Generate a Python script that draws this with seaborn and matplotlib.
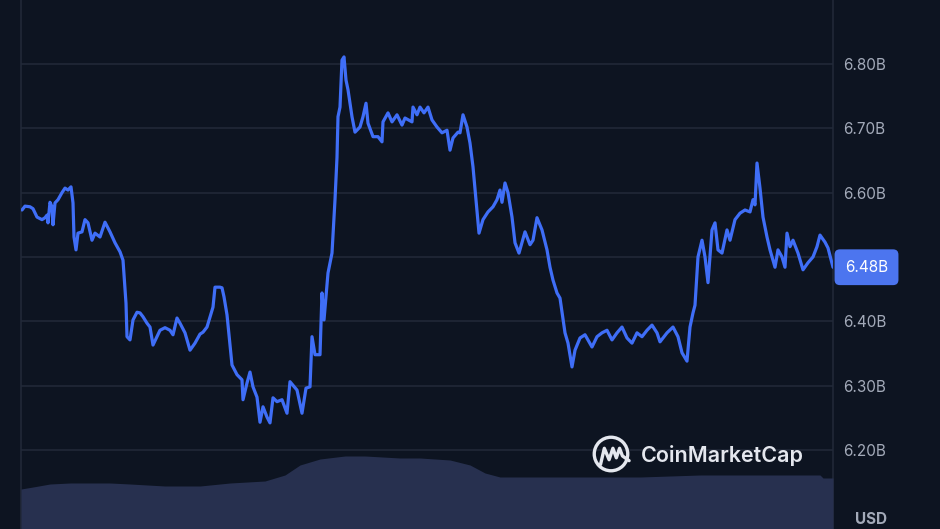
import numpy as np
import pandas as pd
import seaborn as sns
from matplotlib import pyplot as plt
from matplotlib import transforms
from matplotlib.patches import Circle

# price series (market cap, billions USD) over the day, t = timeline step
t = [1, 4, 9, 12, 16, 21, 24, 26, 27, 29, 31, 32, 34, 37, 41, 44, 47, 50, 52, 53,
     55, 57, 61, 64, 67, 71, 74, 79, 84, 89, 94, 99, 102, 105, 106, 109, 112, 116, 119, 122,
     126, 129, 132, 136, 139, 144, 149, 152, 156, 159, 164, 169, 174, 179, 182, 186, 192, 194, 196, 199,
     201, 203, 206, 211, 216, 221, 222, 226, 229, 232, 236, 239, 242, 246, 249, 252, 256, 261, 266, 269,
     276, 281, 285, 289, 291, 294, 299, 301, 303, 307, 311, 314, 316, 317, 319, 321, 323, 325, 327, 331,
     334, 339, 342, 345, 347, 352, 357, 361, 362, 367, 371, 376, 381, 384, 391, 392, 396, 399, 403, 407,
     411, 416, 421, 426, 429, 432, 437, 439, 442, 446, 449, 452, 456, 458, 462, 467, 472, 476, 479, 481,
     484, 487, 491, 494, 498, 504, 509, 512, 516, 521, 526, 529, 532, 536, 539, 544, 547, 551, 554, 559,
     564, 571, 576, 581, 586, 591, 596, 601, 606, 611, 616, 621, 626, 631, 636, 639, 646, 652, 657, 661,
     666, 669, 672, 674, 677, 681, 684, 687, 691, 694, 697, 701, 706, 709, 714, 719, 724, 729, 732, 734,
     736, 739, 742, 746, 749, 754, 757, 761, 764, 766, 769, 772, 777, 782, 787, 792, 796, 799, 804, 807,
     812]
price = [6.573, 6.579, 6.578, 6.575, 6.562, 6.558, 6.561, 6.565, 6.553, 6.585, 6.578, 6.550, 6.584, 6.589, 6.600, 6.607, 6.604, 6.609, 6.584, 6.531,
         6.511, 6.537, 6.539, 6.558, 6.553, 6.526, 6.537, 6.531, 6.554, 6.539, 6.522, 6.508, 6.495, 6.428, 6.376, 6.371, 6.402, 6.414, 6.413, 6.407,
         6.397, 6.391, 6.363, 6.376, 6.386, 6.390, 6.386, 6.379, 6.405, 6.397, 6.382, 6.355, 6.366, 6.380, 6.383, 6.391, 6.422, 6.453, 6.453, 6.453,
         6.452, 6.438, 6.410, 6.332, 6.317, 6.309, 6.278, 6.304, 6.321, 6.298, 6.282, 6.243, 6.267, 6.251, 6.242, 6.281, 6.275, 6.278, 6.257, 6.306,
         6.293, 6.257, 6.296, 6.298, 6.376, 6.348, 6.348, 6.444, 6.402, 6.475, 6.506, 6.589, 6.655, 6.718, 6.733, 6.806, 6.811, 6.775, 6.760, 6.718,
         6.694, 6.702, 6.718, 6.739, 6.708, 6.687, 6.687, 6.679, 6.710, 6.724, 6.710, 6.721, 6.705, 6.716, 6.710, 6.733, 6.721, 6.733, 6.724, 6.733,
         6.713, 6.702, 6.693, 6.697, 6.666, 6.685, 6.694, 6.693, 6.721, 6.702, 6.677, 6.640, 6.571, 6.537, 6.558, 6.570, 6.578, 6.589, 6.604, 6.585,
         6.615, 6.600, 6.562, 6.522, 6.506, 6.539, 6.519, 6.526, 6.561, 6.542, 6.511, 6.484, 6.464, 6.444, 6.436, 6.382, 6.366, 6.329, 6.355, 6.374,
         6.379, 6.360, 6.376, 6.382, 6.386, 6.371, 6.382, 6.391, 6.374, 6.366, 6.382, 6.376, 6.386, 6.394, 6.382, 6.368, 6.382, 6.391, 6.376, 6.351,
         6.338, 6.391, 6.413, 6.425, 6.500, 6.526, 6.500, 6.460, 6.542, 6.553, 6.511, 6.506, 6.542, 6.526, 6.558, 6.568, 6.573, 6.570, 6.589, 6.581,
         6.646, 6.607, 6.562, 6.531, 6.511, 6.484, 6.511, 6.500, 6.484, 6.537, 6.516, 6.526, 6.506, 6.480, 6.491, 6.500, 6.516, 6.534, 6.523, 6.514,
         6.484]

# volume profile (relative units)
vol_t = [0, 12, 29, 49, 89, 109, 144, 179, 209, 244, 264, 279, 299, 324, 344, 379, 399, 429, 449, 464,
         479, 499, 539, 619, 679, 759, 799, 802, 812]
vol = [40, 42, 45, 46, 46, 45, 43, 43, 46, 48, 54, 64, 70, 73, 73, 71, 71, 69, 64, 56,
       52, 52, 52, 52, 54, 54, 54, 51, 51]

yticks = [6.2, 6.3, 6.4, 6.5, 6.6, 6.7, 6.8]

BG = '#0d1421'
GRID = '#222a39'
LINE = '#3f6ef7'
TXT = '#a3aab9'

sns.set_theme(style='dark', rc={'axes.facecolor': BG, 'figure.facecolor': BG})
plt.rcParams['font.family'] = ['Inter', 'DejaVu Sans']

W, H = 940, 529
fig = plt.figure(figsize=(W / 100, H / 100), dpi=100)
ax = fig.add_axes([21 / W, 0, 812 / W, 1])

df = pd.DataFrame({'t': t, 'price': price})
sns.lineplot(data=df, x='t', y='price', ax=ax, color=LINE, linewidth=2.3, zorder=3)
ax.set_xlim(0, 812)
ax.set_ylim(6.077, 6.8995)
ax.set_yticks(yticks)
ax.yaxis.tick_right()
# the current-value tag sits over the nearest tick label, so leave that one blank
ax.set_yticklabels(["" if abs(v - price[-1]) < 0.05 else f"{v:.2f}B" for v in yticks])
ax.tick_params(axis='y', length=0, pad=7.5, labelsize=11, labelcolor=TXT)
ax.set_xticks([])
ax.set_xlabel('')
ax.set_ylabel('')
ax.grid(axis='y', color=GRID, linewidth=1.1)
ax.grid(axis='x', visible=False)
for side in ['top', 'bottom']:
    ax.spines[side].set_visible(False)
for side in ['left', 'right']:
    ax.spines[side].set_visible(True)
    ax.spines[side].set_color(GRID)
    ax.spines[side].set_linewidth(1.1)

# current value tag
trans = transforms.blended_transform_factory(fig.transFigure, ax.transData)
ax.text(866.5 / W, price[-1], f"{price[-1]:.2f}B", transform=trans, ha='center', va='center',
        fontsize=11, color='white', zorder=6, clip_on=False,
        bbox=dict(boxstyle='round,pad=0.68,rounding_size=0.35', fc='#4c75ef', ec='none'))

# volume area
axv = fig.add_axes([21 / W, 0, 812 / W, 100 / H])
axv.fill_between(vol_t, vol, 0, color='#27304f', lw=0)
axv.set_xlim(0, 812)
axv.set_ylim(0, 100)
axv.axis('off')
axv.patch.set_alpha(0)

# watermark
fig.text(641 / W, 1 - 455 / H, 'CoinMarketCap', fontsize=15.5, fontweight='semibold',
         color='#e4e7ee', ha='left', va='center')
axl = fig.add_axes([591 / W, 1 - 474 / H, 40 / W, 40 / H])
axl.set_xlim(-1.05, 1.05)
axl.set_ylim(-1.05, 1.05)
axl.axis('off')
axl.patch.set_alpha(0)
axl.add_patch(Circle((0, 0), 0.88, fill=False, ec='#e4e7ee', lw=2.4))
mx = [-0.55, -0.35, -0.1, 0.1, 0.28, 0.45, 0.6, 0.95]
my = [-0.55, 0.3, -0.3, 0.3, -0.2, 0.3, -0.1, -0.35]
axl.plot(mx, my, color='#e4e7ee', lw=2.4, solid_joinstyle='round', solid_capstyle='round')
axl.add_patch(Circle((0.82, -0.42), 0.2, fc=BG, ec='none', zorder=-1))

fig.text(871 / W, 2 / H, 'USD', fontsize=11, fontweight='bold', color=TXT,
         ha='center', va='bottom')

plt.savefig('out.png', dpi=100, facecolor=BG)
